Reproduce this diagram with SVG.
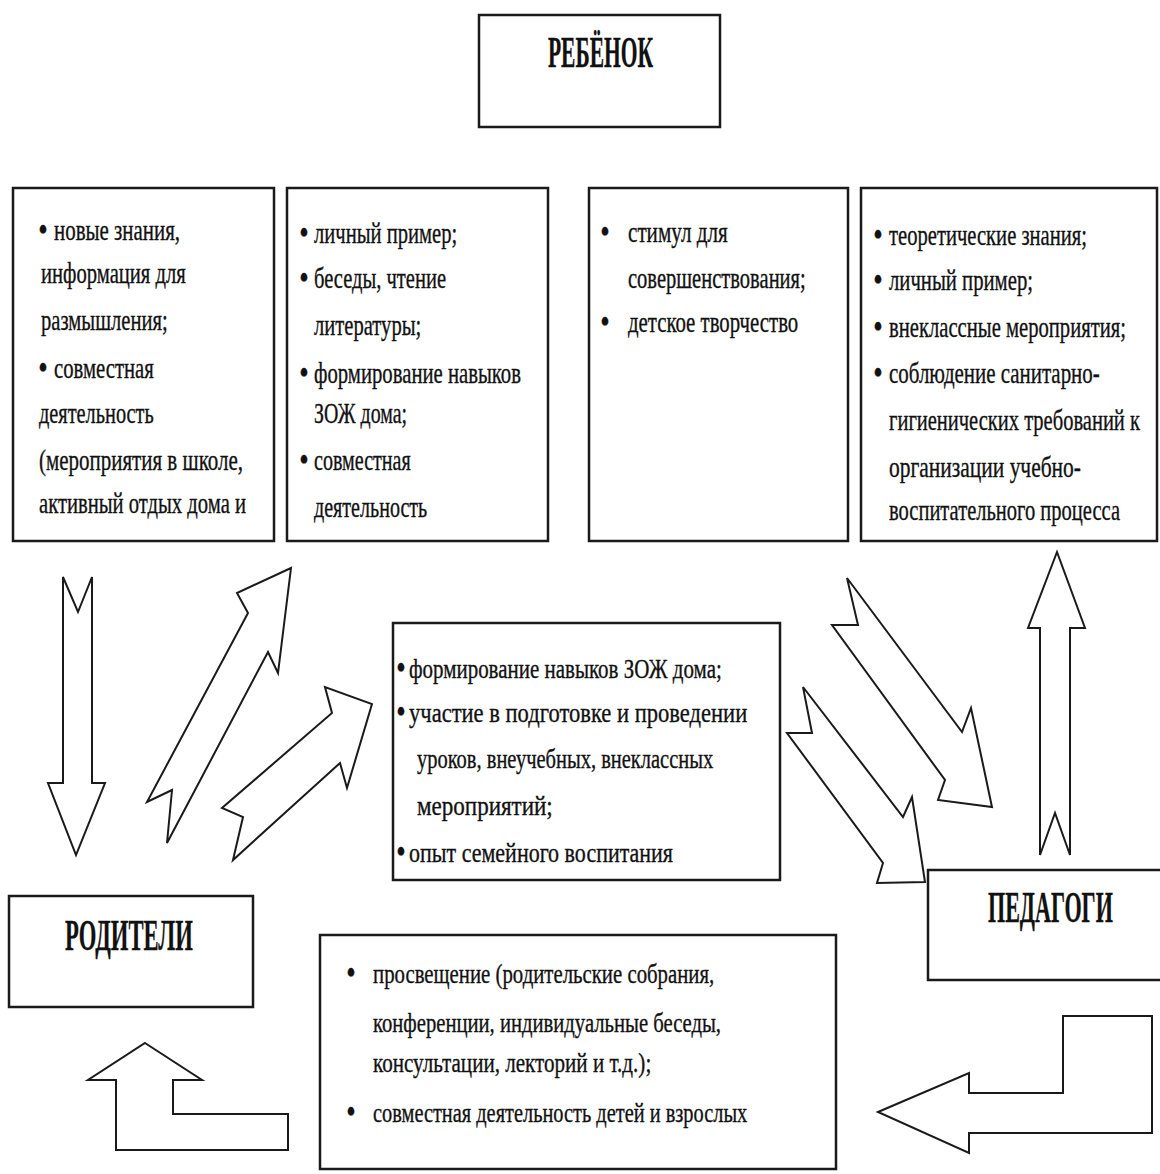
<svg xmlns="http://www.w3.org/2000/svg" width="1160" height="1174" viewBox="0 0 1160 1174">
<style>
.box{fill:#fff;stroke:#1a1a1a;stroke-width:2.5}
.arrow{fill:#fff;stroke:#1a1a1a;stroke-width:2;stroke-linejoin:miter}
.t{font-family:"Liberation Serif","Times New Roman",serif;font-size:30px;fill:#111;stroke:#111;stroke-width:0.35}
.s{font-size:28px}
.h{font-weight:bold;font-size:44px}
.b{text-anchor:middle;font-size:36px}
</style>
<rect width="1160" height="1174" fill="#fff"/>

<g id="connectors">
  <polygon class="arrow" points="63,577 78,612 92,577 92,783 105,783 76,855 48,783 63,783"/>
  <polygon class="arrow" points="291,568 278,673 268,652 167,843 172,790 147,802 248,613 237,593"/>
  <polygon class="arrow" points="372,704 347,788 340,763 233,860 243,817 222,808 332,713 325,687"/>
  <polygon class="arrow" points="847,578 962,732 971,708 992,807 938,800 945,780 832,625 858,625"/>
  <polygon class="arrow" points="803,687 903,817 912,797 925,882 877,883 883,863 787,733 812,733"/>
  <polygon class="arrow" points="1057,552 1085,628 1070,628 1070,855 1055,813 1040,855 1040,628 1028,628"/>
  <polygon class="arrow" points="145,1043 202,1080 173,1080 173,1114 288,1114 288,1150 116,1150 116,1080 88,1080"/>
  <polygon class="arrow" points="878,1112 969,1073 969,1093 1063,1093 1063,1016 1152,1016 1152,1133 969,1133 969,1153"/>
</g>

<g id="node-rebenok">
  <rect class="box" x="479" y="15" width="241" height="112"/>
  <text class="t h" transform="translate(548 67) scale(.6 1)" textLength="175" lengthAdjust="spacingAndGlyphs">РЕБЁНОК</text>
</g>

<g id="node-box1">
  <rect class="box" x="13" y="188" width="261" height="353"/>
  <text class="t b" transform="translate(43 242) scale(.75 1)">•</text>
  <text class="t" transform="translate(54 240) scale(.75 1)" textLength="168" lengthAdjust="spacingAndGlyphs">новые знания,</text>
  <text class="t" transform="translate(41 283) scale(.75 1)" textLength="193" lengthAdjust="spacingAndGlyphs">информация для</text>
  <text class="t" transform="translate(41 330) scale(.75 1)" textLength="169" lengthAdjust="spacingAndGlyphs">размышления;</text>
  <text class="t b" transform="translate(43 380) scale(.75 1)">•</text>
  <text class="t" transform="translate(54 378) scale(.75 1)" textLength="133" lengthAdjust="spacingAndGlyphs">совместная</text>
  <text class="t" transform="translate(39 423) scale(.75 1)" textLength="153" lengthAdjust="spacingAndGlyphs">деятельность</text>
  <text class="t" transform="translate(39 470) scale(.75 1)" textLength="272" lengthAdjust="spacingAndGlyphs">(мероприятия в школе,</text>
  <text class="t" transform="translate(39 513) scale(.75 1)" textLength="276" lengthAdjust="spacingAndGlyphs">активный отдых дома и</text>
</g>

<g id="node-box2">
  <rect class="box" x="287" y="188" width="261" height="353"/>
  <text class="t b" transform="translate(304 245) scale(.75 1)">•</text>
  <text class="t" transform="translate(314 243) scale(.75 1)" textLength="191" lengthAdjust="spacingAndGlyphs">личный пример;</text>
  <text class="t b" transform="translate(304 290) scale(.75 1)">•</text>
  <text class="t" transform="translate(314 288) scale(.75 1)" textLength="176" lengthAdjust="spacingAndGlyphs">беседы, чтение</text>
  <text class="t" transform="translate(314 335) scale(.75 1)" textLength="143" lengthAdjust="spacingAndGlyphs">литературы;</text>
  <text class="t b" transform="translate(304 385) scale(.75 1)">•</text>
  <text class="t" transform="translate(314 383) scale(.75 1)" textLength="276" lengthAdjust="spacingAndGlyphs">формирование навыков</text>
  <text class="t" transform="translate(314 423) scale(.75 1)" textLength="124" lengthAdjust="spacingAndGlyphs">ЗОЖ дома;</text>
  <text class="t b" transform="translate(304 472) scale(.75 1)">•</text>
  <text class="t" transform="translate(314 470) scale(.75 1)" textLength="129" lengthAdjust="spacingAndGlyphs">совместная</text>
  <text class="t" transform="translate(314 517) scale(.75 1)" textLength="151" lengthAdjust="spacingAndGlyphs">деятельность</text>
</g>

<g id="node-box3">
  <rect class="box" x="589" y="188" width="259" height="353"/>
  <text class="t b" transform="translate(605 244) scale(.75 1)">•</text>
  <text class="t" transform="translate(628 242) scale(.75 1)" textLength="133" lengthAdjust="spacingAndGlyphs">стимул для</text>
  <text class="t" transform="translate(628 288) scale(.75 1)" textLength="237" lengthAdjust="spacingAndGlyphs">совершенствования;</text>
  <text class="t b" transform="translate(605 334) scale(.75 1)">•</text>
  <text class="t" transform="translate(628 332) scale(.75 1)" textLength="227" lengthAdjust="spacingAndGlyphs">детское творчество</text>
</g>

<g id="node-box4">
  <rect class="box" x="861" y="188" width="296" height="353"/>
  <text class="t b" transform="translate(878 247) scale(.75 1)">•</text>
  <text class="t" transform="translate(889 245) scale(.75 1)" textLength="264" lengthAdjust="spacingAndGlyphs">теоретические знания;</text>
  <text class="t b" transform="translate(878 292) scale(.75 1)">•</text>
  <text class="t" transform="translate(889 290) scale(.75 1)" textLength="192" lengthAdjust="spacingAndGlyphs">личный пример;</text>
  <text class="t b" transform="translate(878 339) scale(.75 1)">•</text>
  <text class="t" transform="translate(889 337) scale(.75 1)" textLength="316" lengthAdjust="spacingAndGlyphs">внеклассные мероприятия;</text>
  <text class="t b" transform="translate(878 385) scale(.75 1)">•</text>
  <text class="t" transform="translate(889 383) scale(.75 1)" textLength="281" lengthAdjust="spacingAndGlyphs">соблюдение санитарно-</text>
  <text class="t" transform="translate(889 430) scale(.68 1)" textLength="369" lengthAdjust="spacingAndGlyphs">гигиенических требований к</text>
  <text class="t" transform="translate(889 477) scale(.75 1)" textLength="256" lengthAdjust="spacingAndGlyphs">организации учебно-</text>
  <text class="t" transform="translate(889 520) scale(.75 1)" textLength="308" lengthAdjust="spacingAndGlyphs">воспитательного процесса</text>
</g>

<g id="node-center">
  <rect class="box" x="393" y="623" width="387" height="257"/>
  <text class="t s b" transform="translate(401 680) scale(.75 1)">•</text>
  <text class="t s" transform="translate(409 678) scale(.75 1)" textLength="417" lengthAdjust="spacingAndGlyphs">формирование навыков ЗОЖ дома;</text>
  <text class="t s b" transform="translate(401 724) scale(.75 1)">•</text>
  <text class="t s" transform="translate(409 722) scale(.75 1)" textLength="451" lengthAdjust="spacingAndGlyphs">участие в подготовке и проведении</text>
  <text class="t s" transform="translate(417 768) scale(.75 1)" textLength="395" lengthAdjust="spacingAndGlyphs">уроков, внеучебных, внеклассных</text>
  <text class="t s" transform="translate(417 815) scale(.75 1)" textLength="181" lengthAdjust="spacingAndGlyphs">мероприятий;</text>
  <text class="t s b" transform="translate(401 864) scale(.75 1)">•</text>
  <text class="t s" transform="translate(409 862) scale(.75 1)" textLength="352" lengthAdjust="spacingAndGlyphs">опыт семейного воспитания</text>
</g>

<g id="node-roditeli">
  <rect class="box" x="9" y="896" width="244" height="111"/>
  <text class="t h" transform="translate(65 950) scale(.6 1)" textLength="213" lengthAdjust="spacingAndGlyphs">РОДИТЕЛИ</text>
</g>

<g id="node-pedagogi">
  <rect class="box" x="928" y="870" width="240" height="110"/>
  <text class="t h" transform="translate(988 922) scale(.6 1)" textLength="208" lengthAdjust="spacingAndGlyphs">ПЕДАГОГИ</text>
</g>

<g id="node-bottom">
  <rect class="box" x="320" y="935" width="516" height="234"/>
  <text class="t s b" transform="translate(351 985) scale(.75 1)">•</text>
  <text class="t s" transform="translate(373 983) scale(.75 1)" textLength="455" lengthAdjust="spacingAndGlyphs">просвещение (родительские собрания,</text>
  <text class="t s" transform="translate(373 1032) scale(.75 1)" textLength="464" lengthAdjust="spacingAndGlyphs">конференции, индивидуальные беседы,</text>
  <text class="t s" transform="translate(373 1072) scale(.75 1)" textLength="371" lengthAdjust="spacingAndGlyphs">консультации, лекторий и т.д.);</text>
  <text class="t s b" transform="translate(351 1124) scale(.75 1)">•</text>
  <text class="t s" transform="translate(373 1122) scale(.75 1)" textLength="499" lengthAdjust="spacingAndGlyphs">совместная деятельность детей и взрослых</text>
</g>
</svg>
